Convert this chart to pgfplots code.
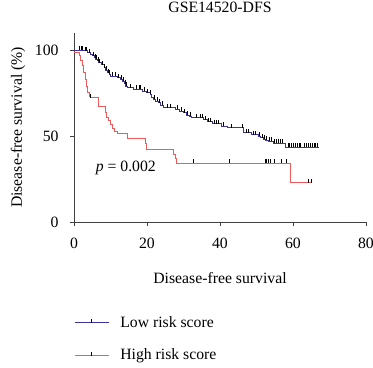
\documentclass[border=0pt]{standalone}
\usepackage{fontspec}
\setmainfont{Liberation Serif}
\usepackage{pgfplots}
\pgfplotsset{compat=1.18}
\definecolor{lowblue}{RGB}{62,52,160}
\definecolor{highred}{RGB}{240,90,90}
\pgfdeclareplotmark{cens}{\pgfpathmoveto{\pgfqpoint{0pt}{0pt}}\pgfpathlineto{\pgfqpoint{0pt}{2\pgfplotmarksize}}\pgfusepathqstroke}
\begin{document}
\fontsize{15.8}{18}\selectfont
\begin{tikzpicture}
\path[use as bounding box] (-74bp,-146bp) rectangle (299bp,222bp);
\begin{axis}[
  scale only axis, width=292bp, height=189bp,
  xmin=0, xmax=80, ymin=0, ymax=110,
  axis x line*=bottom, axis y line*=left,
  axis line style={line width=0.8pt, black!75},
  xtick={0,20,40,60,80}, ytick={0,50,100},
  tick align=outside, major tick length=4bp,
  tick style={line width=0.8pt, black!75},
  /pgf/number format/assume math mode=true,
  xticklabel style={yshift=-7bp},
  yticklabel style={xshift=-6bp},
  title={GSE14520-DFS},
  title style={at={(axis description cs:0.5,1.106)}, anchor=center},
  xlabel={Disease-free survival},
  xlabel style={at={(axis description cs:0.5,-0.296)}, anchor=center},
  ylabel={Disease-free survival (\%)},
  ylabel style={at={(axis description cs:-0.192,0.5)}, anchor=center},
  legend style={draw=none, fill=none, at={(axis description cs:0,0)}, anchor=north west, yshift=-92bp, row sep=15.6bp, column sep=9bp, inner sep=0pt, cells={anchor=west}},
  legend cell align=left,
]
\addplot[const plot, color=lowblue, line width=0.8pt,
  legend image code/.code={\draw[lowblue, line width=1.1pt] (0bp,0bp) -- (34bp,0bp); \draw[black, line width=0.6pt] (17bp,0bp) -- (17bp,3.5bp);}]
coordinates {
(0,100) (2.7,99.6) (3.8,98.6) (4.6,97.6) (5.0,96.7) (5.5,95.6) (5.9,94.7) (6.4,93.8) (6.8,92.8) (7.4,91.5) (8.2,89.9) (8.7,88.5) (9.1,87.0) (9.6,86.0) (10.0,85.0) (11.9,84.0) (12.6,83.0) (13.2,82.0) (13.8,80.5) (14.2,79.2) (14.6,78.2) (16.4,77.2) (18.7,76.2) (19.8,75.2) (20.8,74.3) (21.3,72.8) (21.7,71.3) (22.4,70.3) (23.1,69.4) (23.8,67.9) (24.5,66.5) (27.7,65.5) (28.8,64.6) (29.9,63.6) (30.8,62.3) (31.5,61.5) (32.2,60.6) (35.5,59.5) (36.5,58.3) (38,57.2) (40.5,55.8) (42,54.8) (46.4,51.9) (48.7,50.9) (50.5,49.9) (51.2,49.1) (51.9,48.3) (52.5,47.6) (53.2,47.0) (54.6,46.0) (57.8,43.7) (67.2,43.7)
};
\addlegendentry{Low risk score}
\addplot[const plot, color=highred, line width=0.9pt,
  legend image code/.code={\draw[highred, line width=1.1pt] (0bp,0bp) -- (34bp,0bp); \draw[black, line width=0.6pt] (17bp,0bp) -- (17bp,3.5bp);}]
coordinates {
(0,98.5) (1.4,97) (1.8,94) (2.2,91) (2.6,87) (3.0,83) (3.4,79) (3.8,75.5) (4.1,73.3) (4.5,72.3) (6.6,67.4) (8.6,64) (9.0,61) (9.4,59) (10.0,56.7) (10.5,54.5) (11.0,52.8) (11.9,51.3) (14.6,48.9) (19.5,46) (19.9,42.1) (27.2,39.2) (27.7,37) (28.1,34.3) (59.3,22.9) (65.1,22.9)
};
\addlegendentry{High risk score}
\addplot[forget plot, only marks, mark=cens, mark size=2bp, mark options={black, line width=0.6pt}]
coordinates {
(1.5,100) (2.0,100) (2.4,100) (3.0,99.6) (3.4,99.6) (4.2,98.6) (5.2,96.7) (5.7,95.6) (6.1,94.7) (6.6,93.8) (7.0,92.8) (7.8,91.5) (8.4,89.9) (8.9,88.5) (9.3,87.0) (9.8,86.0) (10.6,85.0) (11.3,85.0) (12.2,84.0) (12.9,83.0) (13.5,82.0) (14.0,80.5) (14.4,79.2) (15.5,78.2) (17.0,77.2) (17.8,77.2) (18.3,77.2) (19.2,76.2) (20.2,75.2) (21.0,74.3) (22.0,71.3) (22.8,70.3) (23.5,69.4) (24.2,67.9) (25.5,66.5) (26.5,66.5) (28.2,65.5) (29.3,64.6) (30.3,63.6) (31.1,62.3) (31.8,61.5) (33.5,60.6) (34.5,60.6) (35.2,60.6) (36.0,59.5) (36.9,58.3) (37.4,58.3) (38.5,57.2) (39.0,57.2) (39.6,57.2) (41.0,55.8) (43.0,54.8) (46.0,54.8) (47.2,51.9) (47.8,51.9) (49.2,50.9) (49.8,50.9) (50.8,49.9) (51.5,49.1) (52.2,48.3) (52.8,47.6) (53.5,47.0) (54.0,47.0) (54.9,46.0) (55.4,46.0) (56.0,46.0) (56.6,46.0) (57.2,46.0) (58.6,43.7) (59.1,43.7) (59.6,43.7) (60.1,43.7) (60.6,43.7) (61.1,43.7) (61.6,43.7) (62.1,43.7) (63.2,43.7) (63.7,43.7) (64.2,43.7) (64.7,43.7) (65.2,43.7) (65.7,43.7) (66.2,43.7) (66.7,43.7)
};
\addplot[forget plot, only marks, mark=cens, mark size=2bp, mark options={black, line width=0.6pt}]
coordinates {
(4.6,72.3) (32.7,34.3) (42.5,34.3) (52.3,34.3) (52.8,34.3) (53.3,34.3) (53.9,34.3) (55.0,34.3) (56.9,34.3) (58.1,34.3) (64.2,22.9) (65.1,22.9)
};
\node at (axis cs:14.2,31.6) {\textit{p} = 0.002};
\end{axis}
\end{tikzpicture}
\end{document}
